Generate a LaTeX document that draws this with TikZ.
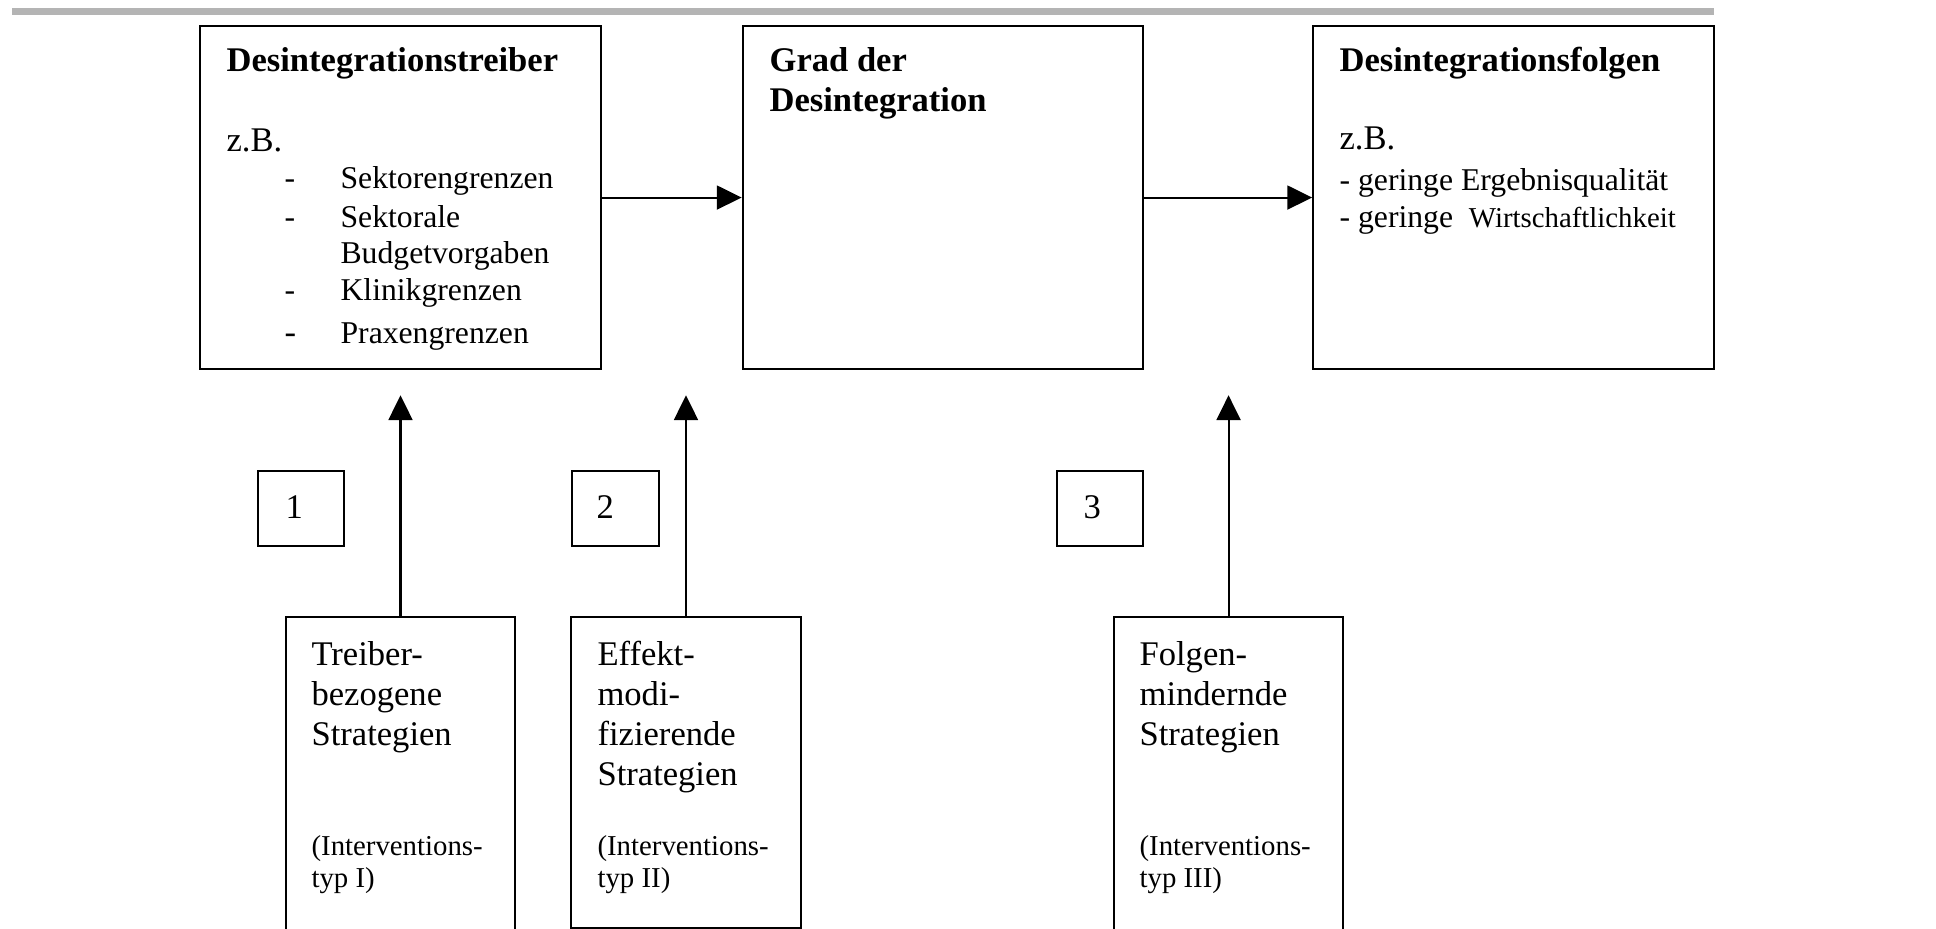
\documentclass[tikz,border=0pt]{standalone}
\usepackage{fontspec}
\setmainfont{Liberation Serif}
\usetikzlibrary{arrows.meta}
\definecolor{bargray}{RGB}{180,180,180}
\tikzset{
  bigbox/.style={draw,line width=0.7pt,minimum width=4.89cm,minimum height=4.185cm,inner sep=0pt},
  numbox/.style={draw,line width=0.7pt,minimum width=1.05cm,minimum height=0.915cm,inner sep=0pt},
  stratbox/.style={draw,line width=0.7pt,minimum width=2.794cm,minimum height=3.85cm,inner sep=0pt,anchor=north},
  bodytxt/.style={anchor=base west,inner sep=0pt,font=\fontsize{12}{14}\selectfont},
  headtxt/.style={anchor=base west,inner sep=0pt,font=\fontsize{12}{14}\selectfont\bfseries},
  itemtxt/.style={anchor=base west,inner sep=0pt,font=\fontsize{11}{13}\selectfont},
  smalltxt/.style={anchor=base west,inner sep=0pt,font=\fontsize{10}{12}\selectfont},
  link/.style={line width=0.7pt,-{Triangle[length=8.6pt,width=8.3pt]}}
}
\begin{document}
\begin{tikzpicture}
\useasboundingbox (0,0) rectangle (23.619,11.322);
\fill[bargray] (0.146,11.139) rectangle (20.911,11.224);

\node[bigbox] (treiber) at (4.886,8.912) {};
\node[bigbox] (grad) at (11.505,8.912) {};
\node[bigbox] (folgen) at (18.465,8.912) {};

\node[headtxt] (treiberhead) at (2.757,10.455) {Desintegrationstreiber};
\node[bodytxt] (treiberzb) at (2.757,9.479) {z.B.};
\node[itemtxt] (sektor) at (3.465,9.028) {\makebox[0.683cm][l]{-}Sektorengrenzen};
\node[itemtxt] (sektoral) at (3.465,8.552) {\makebox[0.683cm][l]{-}Sektorale};
\node[itemtxt] (budget) at (4.148,8.113) {Budgetvorgaben};
\node[itemtxt] (klinik) at (3.465,7.662) {\makebox[0.683cm][l]{-}Klinikgrenzen};
\node[itemtxt] (praxen) at (3.465,7.137) {\makebox[0.683cm][l]{\fontsize{12}{14}\selectfont -}Praxengrenzen};

\node[headtxt] (gradhead) at (9.382,10.455) {Grad der};
\node[headtxt] (gradhead2) at (9.382,9.967) {Desintegration};

\node[headtxt] (folgenhead) at (16.336,10.455) {Desintegrationsfolgen};
\node[bodytxt] (folgenzb) at (16.336,9.492) {z.B.};
\node[itemtxt] (ergebnis) at (16.336,8.998) {- geringe Ergebnisqualität};
\node[itemtxt] (wirtschaft) at (16.336,8.546) {- geringe\ \ {\fontsize{10}{12}\selectfont Wirtschaftlichkeit}};

\draw[link] (treiber) -- (grad);
\draw[link] (grad) -- (folgen);

\node[numbox] (nr1) at (3.672,5.118) {};
\node[numbox] (nr2) at (7.509,5.118) {};
\node[numbox] (nr3) at (13.42,5.118) {};
\node[bodytxt] (nr1txt) at (3.477,5.0) {1};
\node[bodytxt] (nr2txt) at (7.271,5.0) {2};
\node[bodytxt] (nr3txt) at (13.213,5.0) {3};

\node[stratbox] (strat1) at (4.886,3.806) {};
\node[stratbox,minimum height=3.794cm] (strat2) at (8.369,3.806) {};
\node[stratbox] (strat3) at (14.988,3.806) {};

\node[bodytxt] (s1a) at (3.794,3.207) {Treiber-};
\node[bodytxt] (s1b) at (3.794,2.719) {bezogene};
\node[bodytxt] (s1c) at (3.794,2.231) {Strategien};
\node[smalltxt] (s1d) at (3.794,0.89) {(Interventions-};
\node[smalltxt] (s1e) at (3.794,0.49) {typ I)};

\node[bodytxt] (s2a) at (7.283,3.207) {Effekt-};
\node[bodytxt] (s2b) at (7.283,2.719) {modi-};
\node[bodytxt] (s2c) at (7.283,2.231) {fizierende};
\node[bodytxt] (s2d) at (7.283,1.743) {Strategien};
\node[smalltxt] (s2e) at (7.283,0.89) {(Interventions-};
\node[smalltxt] (s2f) at (7.283,0.49) {typ II)};

\node[bodytxt] (s3a) at (13.896,3.207) {Folgen-};
\node[bodytxt] (s3b) at (13.896,2.719) {mindernde};
\node[bodytxt] (s3c) at (13.896,2.231) {Strategien};
\node[smalltxt] (s3d) at (13.896,0.89) {(Interventions-};
\node[smalltxt] (s3e) at (13.896,0.49) {typ III)};

\coordinate (tip1) at (4.886,6.50);
\coordinate (tip2) at (8.369,6.50);
\coordinate (tip3) at (14.988,6.50);
\draw[link] (strat1.north) -- (tip1);
\draw[link] (strat2.north) -- (tip2);
\draw[link] (strat3.north) -- (tip3);
\end{tikzpicture}
\end{document}
